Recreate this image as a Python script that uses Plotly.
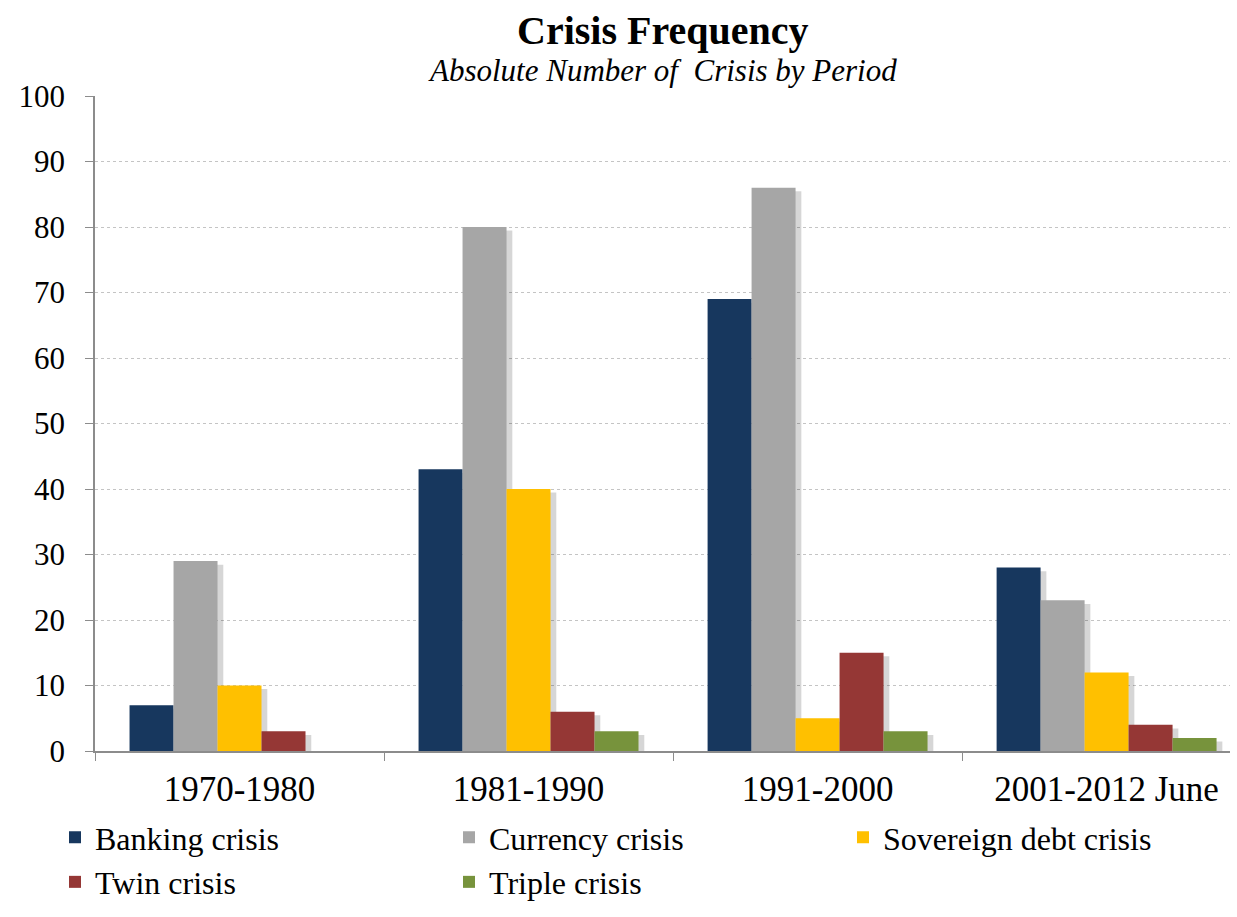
import plotly.graph_objects as go

periods = ["1970-1980", "1981-1990", "1991-2000", "2001-2012 June"]
banking = [7, 43, 69, 28]
currency = [29, 80, 86, 23]
sovereign = [10, 40, 5, 12]
twin = [3, 6, 15, 4]
triple = [0, 3, 3, 2]

series = [
    ("Banking crisis", banking, "#17375E"),
    ("Currency crisis", currency, "#A6A6A6"),
    ("Sovereign debt crisis", sovereign, "#FFC000"),
    ("Twin crisis", twin, "#953735"),
    ("Triple crisis", triple, "#77933C"),
]

serif = "Liberation Serif, Times New Roman, serif"

# x-range: the last category is slightly cropped at the right edge, as in the reference
xr = [-0.5, 3.427]
yr = [0, 100]
# soft drop shadow offset (data units) for the shadow copies drawn underneath
dx, dy = 0.02, 0.55

fig = go.Figure()
# shadows (main axes, hidden) drawn first, underneath
for name, vals, col in series:
    fig.add_trace(go.Bar(x=periods, y=vals, name=name, showlegend=False, hoverinfo="skip",
                         marker=dict(color="rgba(0,0,0,0.16)", line=dict(width=0)),
                         xaxis="x", yaxis="y"))
# real bars on overlay axes, drawn on top
for name, vals, col in series:
    fig.add_trace(go.Bar(x=periods, y=vals, name=name,
                         marker=dict(color=col, line=dict(width=0)),
                         xaxis="x2", yaxis="y2"))

fig.update_layout(
    width=1237, height=917,
    margin=dict(l=95, r=7, t=96, b=166),
    paper_bgcolor="white", plot_bgcolor="white",
    barmode="group", bargap=0.239, bargroupgap=0,
    font=dict(family=serif, color="#000000"),
    showlegend=True,
    legend=dict(orientation="h", x=-0.002, xanchor="left", y=-0.09, yanchor="top",
                font=dict(family=serif, size=32, color="#000"),
                entrywidth=349, entrywidthmode="pixels",
                itemwidth=30, tracegroupgap=0, traceorder="normal"),
    xaxis=dict(range=[xr[0] - dx, xr[1] - dx], showgrid=False, showline=False, ticks="",
               showticklabels=False, zeroline=False, fixedrange=True),
    yaxis=dict(range=[yr[0] + dy, yr[1] + dy], showgrid=False, showline=False, ticks="",
               showticklabels=False, zeroline=False, fixedrange=True),
    xaxis2=dict(overlaying="x", anchor="y2", side="bottom", range=xr,
                showline=True, linecolor="#8c8c8c", linewidth=1.5,
                ticks="outside", tickson="boundaries", ticklen=8, tickcolor="#8c8c8c",
                showgrid=False, ticklabelstandoff=6,
                tickfont=dict(family=serif, size=35, color="#000")),
    yaxis2=dict(overlaying="y", anchor="x2", side="left", range=yr, dtick=10,
                showline=True, linecolor="#8c8c8c", linewidth=1.5,
                ticks="outside", ticklen=8, tickcolor="#8c8c8c",
                showgrid=True, gridcolor="#c4c4c4", griddash="dot", gridwidth=1,
                zeroline=False, ticklabelstandoff=14,
                tickfont=dict(family=serif, size=31, color="#000")),
)
fig.add_annotation(text="<b>Crisis Frequency</b>", xref="paper", yref="paper", x=0.5, y=1,
                   yshift=66, showarrow=False, font=dict(family=serif, size=40), yanchor="middle")
fig.add_annotation(text="<i>Absolute Number of  Crisis by Period</i>", xref="paper", yref="paper", x=0.5, y=1,
                   yshift=26, showarrow=False, font=dict(family=serif, size=31), yanchor="middle")
fig.write_html("out.html")
